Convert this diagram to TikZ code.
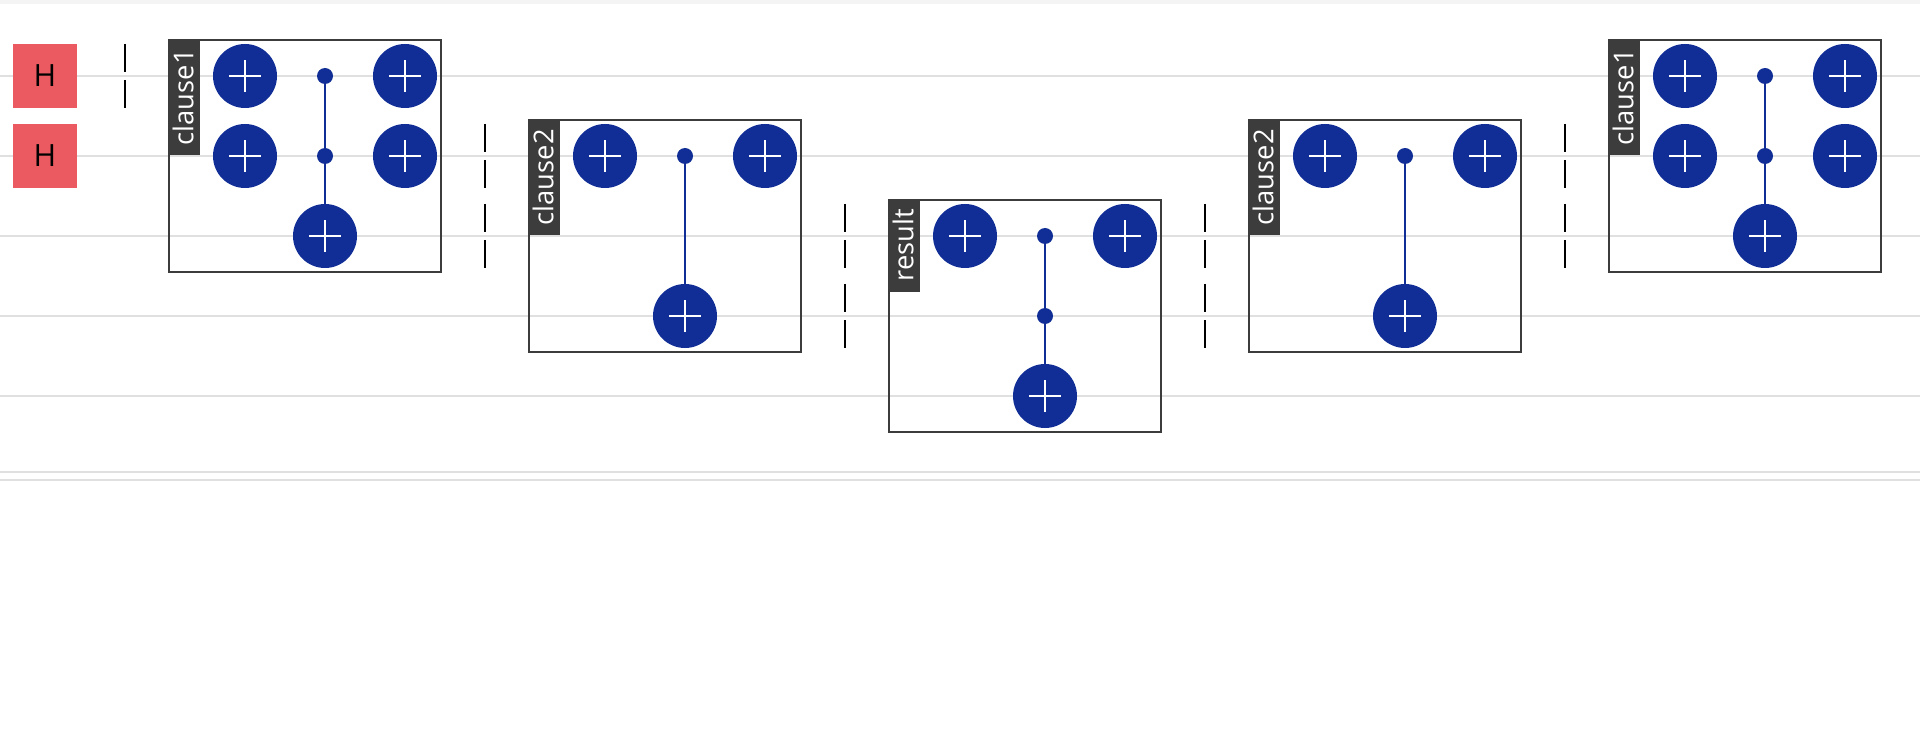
\documentclass[tikz,border=0pt]{standalone}
\usepackage{fontspec}
\setmainfont{Open Sans}
\usepackage{xcolor}
\definecolor{wirecol}{HTML}{E0E0E0}
\definecolor{xorblue}{HTML}{112E96}
\definecolor{hadred}{HTML}{EA5A60}
\definecolor{boxgrey}{HTML}{3C3C3C}
\definecolor{topband}{HTML}{F4F4F4}
\tikzset{
	wire/.style={draw=wirecol, line width=1.7pt},
	hadgate/.style={
			fill=hadred, minimum size=48pt, inner sep=0pt, font=\fontsize{23}{23}\selectfont
		},
	xorgate/.style={
			circle, fill=xorblue, minimum size=48pt, inner sep=0pt,
			path picture={
					\draw [white, line width=2.1pt]
					([xshift=-12pt]path picture bounding box.center) -- ([xshift=12pt]path picture bounding box.center)
					([yshift=-12pt]path picture bounding box.center) -- ([yshift=12pt]path picture bounding box.center);
				}
		},
	ctrldot/.style={circle, fill=xorblue, minimum size=12pt, inner sep=0pt},
	ctrlline/.style={draw=xorblue, line width=1.7pt},
	barrier/.style={black, line width=1.7pt, dash pattern=on 21pt off 6pt},
	blockbox/.style={
			draw=boxgrey, line width=1.7pt, anchor=north west, inner sep=0pt,
			outer sep=0pt, minimum width=204pt, minimum height=174pt
		},
	blocklabel/.style={
			fill=boxgrey, text=white, rotate=90, anchor=north east, inner xsep=7.5pt, inner ysep=0pt,
			minimum height=24pt, text height=16pt, text depth=2.5pt, font=\fontsize{20.5}{20.5}\selectfont
		}
}

\begin{document}
\begin{tikzpicture}[x=0.75pt, y=-0.75pt]
	\useasboundingbox (0,0) rectangle (1920,752);
	\fill [topband] (0,0) rectangle (1920,4);

	% wires
	\foreach \n/\y in {0/76, 1/156, 2/236, 3/316, 4/396, 5/472, 6/480}{
			\coordinate (wl\n) at (0,\y);
			\coordinate (wr\n) at (1920,\y);
			\draw [wire] (wl\n) to (wr\n);
		}

	\node [hadgate] (h0) at (45,76) {H};
	\node [hadgate] (h1) at (45,156) {H};

	\foreach \x/\y in {125/76, 485/156, 485/236, 845/236, 845/316, 1205/236, 1205/316, 1565/156, 1565/236}
	\draw [barrier] (\x,\y-32) to (\x,\y+32);

	% blocks
	\foreach \n/\x/\y/\name in {a/169/40/clause1, b/529/120/clause2, c/889/200/result, d/1249/120/clause2, e/1609/40/clause1}{
			\node [blockbox] (box\n) at (\x,\y) {};
			\node [blocklabel] (lab\n) at ([xshift=-0.75pt,yshift=0.75pt]box\n.north west) {\name};
		}

	% xor gates
	\foreach \n/\x/\y in {a1/245/76, a2/245/156, a3/405/76, a4/405/156, at/325/236,
			b1/605/156, b2/765/156, bt/685/316,
			c1/965/236, c2/1125/236, ct/1045/396,
			d1/1325/156, d2/1485/156, dt/1405/316,
			e1/1685/76, e2/1685/156, e3/1845/76, e4/1845/156, et/1765/236}
	\node [xorgate] (x\n) at (\x,\y) {};

	% controls
	\foreach \n/\x/\y in {a1/325/76, a2/325/156, b1/685/156, c1/1045/236, c2/1045/316, d1/1405/156, e1/1765/76, e2/1765/156}
	\node [ctrldot] (q\n) at (\x,\y) {};

	\draw [ctrlline] (qa1) to (qa2);
	\draw [ctrlline] (qa2) to (xat);
	\draw [ctrlline] (qb1) to (xbt);
	\draw [ctrlline] (qc1) to (qc2);
	\draw [ctrlline] (qc2) to (xct);
	\draw [ctrlline] (qd1) to (xdt);
	\draw [ctrlline] (qe1) to (qe2);
	\draw [ctrlline] (qe2) to (xet);
\end{tikzpicture}
\end{document}
